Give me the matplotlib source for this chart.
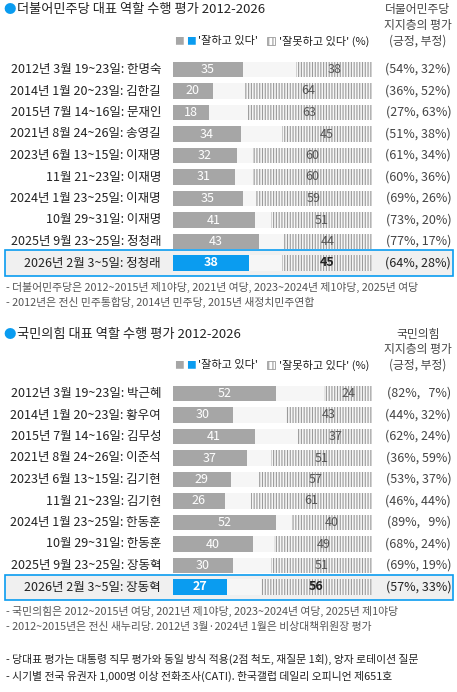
import matplotlib
matplotlib.use("Agg")
import matplotlib.pyplot as plt
from matplotlib.patches import Rectangle

plt.rcParams['font.family'] = ['Noto Sans CJK KR', 'DejaVu Sans']
plt.rcParams['hatch.color'] = '#9a9a9a'
plt.rcParams['hatch.linewidth'] = 0.8

GRAY = '#a6a6a6'
BLUE = '#0a9cf0'
DARK = '#222222'
NOTE = '#555555'

# 더불어민주당
dem_labels = ["2012년 3월 19~23일: 한명숙", "2014년 1월 20~23일: 김한길", "2015년 7월 14~16일: 문재인",
              "2021년 8월 24~26일: 송영길", "2023년 6월 13~15일: 이재명", "11월 21~23일: 이재명",
              "2024년 1월 23~25일: 이재명", "10월 29~31일: 이재명", "2025년 9월 23~25일: 정청래",
              "2026년 2월 3~5일: 정청래"]
dem_pos = [35, 20, 18, 34, 32, 31, 35, 41, 43, 38]
dem_neg = [38, 64, 63, 45, 60, 60, 59, 51, 44, 45]
dem_support = ["(54%, 32%)", "(36%, 52%)", "(27%, 63%)", "(51%, 38%)", "(61%, 34%)",
               "(60%, 36%)", "(69%, 26%)", "(73%, 20%)", "(77%, 17%)", "(64%, 28%)"]

# 국민의힘
ppp_labels = ["2012년 3월 19~23일: 박근혜", "2014년 1월 20~23일: 황우여", "2015년 7월 14~16일: 김무성",
              "2021년 8월 24~26일: 이준석", "2023년 6월 13~15일: 김기현", "11월 21~23일: 김기현",
              "2024년 1월 23~25일: 한동훈", "10월 29~31일: 한동훈", "2025년 9월 23~25일: 장동혁",
              "2026년 2월 3~5일: 장동혁"]
ppp_pos = [52, 30, 41, 37, 29, 26, 52, 40, 30, 27]
ppp_neg = [24, 43, 37, 51, 57, 61, 40, 49, 51, 56]
ppp_support = ["(82%,   7%)", "(44%, 32%)", "(62%, 24%)", "(36%, 59%)", "(53%, 37%)",
               "(46%, 44%)", "(89%,   9%)", "(68%, 24%)", "(69%, 19%)", "(57%, 33%)"]

W, H = 457, 692
fig = plt.figure(figsize=(W / 100, H / 100), dpi=100)


def fx(px):
    return px / W


def fy(py):
    return 1 - py / H


def section(top, title, head, labels, pos, neg, support, notes):
    # title and header
    fig.text(fx(3), fy(top), "●", color=BLUE, fontsize=9, va='center')
    fig.text(fx(17), fy(top), title, color=DARK, fontsize=9.5, va='center', fontweight='medium')
    for i, line in enumerate(head):
        fig.text(fx(418), fy(top + i * 15.5), line, color='#444444', fontsize=8.5, ha='center', va='center')
    ly = top + 31
    fig.text(fx(174), fy(ly), "■", color=GRAY, fontsize=7, va='center')
    fig.text(fx(186), fy(ly), "■", color=BLUE, fontsize=7, va='center')
    fig.text(fx(198), fy(ly), "'잘하고 있다'", color=DARK, fontsize=8, va='center')
    fig.patches.append(Rectangle((fx(267), fy(ly + 4)), 8 / W, 8 / H, transform=fig.transFigure,
                                 facecolor='white', edgecolor='#9a9a9a', hatch='||||', lw=0.6))
    fig.text(fx(279), fy(ly), "'잘못하고 있다' (%)", color=DARK, fontsize=8, va='center')

    # highlight box for the latest row
    r0 = top + 59.5
    pitch = 21.5
    hy = r0 + 9 * pitch
    fig.patches.append(Rectangle((fx(5), fy(hy + 12.5)), 448 / W, 25 / H, transform=fig.transFigure,
                                 facecolor='#f0f0f0', edgecolor=BLUE, lw=1.2, zorder=0))

    ax = fig.add_axes([fx(173), fy(r0 + 9.5 * pitch), 199 / W, 10 * pitch / H])
    ax.set_zorder(2)
    ax.patch.set_visible(False)
    ax.set_xlim(0, 100)
    ax.set_ylim(9.5, -0.5)
    ax.axis('off')
    ys = list(range(len(pos)))
    ax.barh(ys, [100] * len(ys), height=0.7, color='#f6f6f6', lw=0)
    colors = [GRAY] * (len(ys) - 1) + [BLUE]
    ax.barh(ys, pos, height=0.7, color=colors, lw=0)
    lefts = [100 - n for n in neg]
    ax.barh(ys, neg, left=lefts, height=0.7, color='#f6f6f6', hatch='||||||', lw=0)
    for y, p, n, l, s in zip(ys, pos, neg, labels, support):
        last = y == len(ys) - 1
        ax.text(p / 2, y, str(p), color='white', fontsize=9, ha='center', va='center',
                fontweight='bold' if last else 'normal')
        ax.text(100 - n / 2, y, str(n), color='#222222' if last else '#555555', fontsize=9,
                ha='center', va='center', fontweight='bold' if last else 'normal')
        ax.text(-6, y, l, color=DARK, fontsize=9, ha='right', va='center', clip_on=False)
        ax.text(139.8, y, s, color=DARK if last else '#444444', fontsize=9, ha='right',
                va='center', clip_on=False)

    ny = hy + 24
    for i, note in enumerate(notes):
        fig.text(fx(6), fy(ny + i * 15.5), note, color=NOTE, fontsize=7.8, va='center')


section(10, "더불어민주당 대표 역할 수행 평가 2012-2026",
        ["더불어민주당", "지지층의 평가", "(긍정, 부정)"],
        dem_labels, dem_pos, dem_neg, dem_support,
        ["- 더불어민주당은 2012~2015년 제1야당, 2021년 여당, 2023~2024년 제1야당, 2025년 여당",
         "- 2012년은 전신 민주통합당, 2014년 민주당, 2015년 새정치민주연합"])

section(334, "국민의힘 대표 역할 수행 평가 2012-2026",
        ["국민의힘", "지지층의 평가", "(긍정, 부정)"],
        ppp_labels, ppp_pos, ppp_neg, ppp_support,
        ["- 국민의힘은 2012~2015년 여당, 2021년 제1야당, 2023~2024년 여당, 2025년 제1야당",
         "- 2012~2015년은 전신 새누리당. 2012년 3월·2024년 1월은 비상대책위원장 평가"])

fig.text(fx(6), fy(659), "- 당대표 평가는 대통령 직무 평가와 동일 방식 적용(2점 척도, 재질문 1회), 양자 로테이션 질문",
         color=DARK, fontsize=7.8, va='center')
fig.text(fx(6), fy(676), "- 시기별 전국 유권자 1,000명 이상 전화조사(CATI). 한국갤럽 데일리 오피니언 제651호",
         color=DARK, fontsize=7.8, va='center')

fig.savefig("out.png", dpi=100)
